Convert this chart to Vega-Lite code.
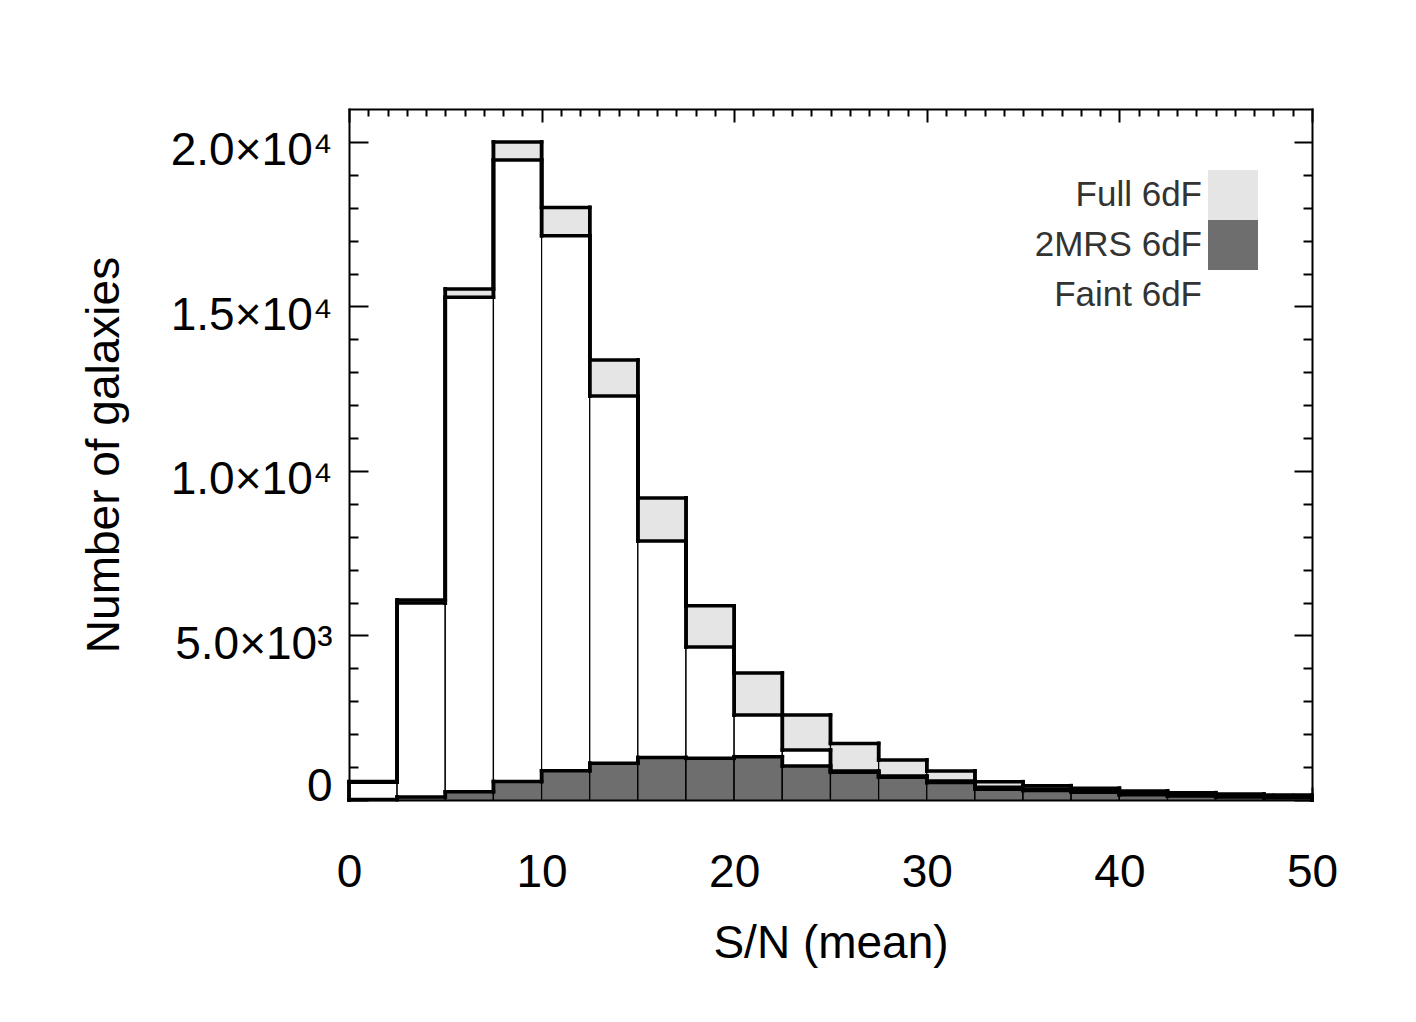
{
  "$schema": "https://vega.github.io/schema/vega-lite/v6.json",
  "width": 963,
  "height": 691,
  "autosize": {"type": "none"},
  "padding": {"left": 349, "top": 109, "right": 104, "bottom": 222},
  "background": "white",
  "config": {
    "view": {"stroke": null},
    "font": "Liberation Sans",
    "axis": {
      "domainColor": "black",
      "domainWidth": 2,
      "domainCap": "square",
      "tickColor": "black",
      "tickWidth": 2,
      "grid": false,
      "labelFont": "Liberation Sans",
      "labelFontSize": 46,
      "labelColor": "black",
      "labelOverlap": false,
      "labelFlush": false,
      "titleFont": "Liberation Sans",
      "titleFontSize": 46,
      "titleFontWeight": "normal",
      "titleColor": "black",
      "zindex": 1
    }
  },
  "data": {
    "values": [
      {"lo": 0, "hi": 2.5, "Full 6dF": 560, "Faint 6dF": 540, "2MRS 6dF": 15},
      {"lo": 2.5, "hi": 5, "Full 6dF": 6080, "Faint 6dF": 5990, "2MRS 6dF": 90},
      {"lo": 5, "hi": 7.5, "Full 6dF": 15530, "Faint 6dF": 15280, "2MRS 6dF": 250},
      {"lo": 7.5, "hi": 10, "Full 6dF": 20000, "Faint 6dF": 19450, "2MRS 6dF": 560},
      {"lo": 10, "hi": 12.5, "Full 6dF": 18010, "Faint 6dF": 17150, "2MRS 6dF": 890},
      {"lo": 12.5, "hi": 15, "Full 6dF": 13370, "Faint 6dF": 12280, "2MRS 6dF": 1115},
      {"lo": 15, "hi": 17.5, "Full 6dF": 9180, "Faint 6dF": 7870, "2MRS 6dF": 1290},
      {"lo": 17.5, "hi": 20, "Full 6dF": 5900, "Faint 6dF": 4650, "2MRS 6dF": 1267},
      {"lo": 20, "hi": 22.5, "Full 6dF": 3860, "Faint 6dF": 2580, "2MRS 6dF": 1317},
      {"lo": 22.5, "hi": 25, "Full 6dF": 2580, "Faint 6dF": 1520, "2MRS 6dF": 1033},
      {"lo": 25, "hi": 27.5, "Full 6dF": 1720, "Faint 6dF": 880, "2MRS 6dF": 840},
      {"lo": 27.5, "hi": 30, "Full 6dF": 1216, "Faint 6dF": 730, "2MRS 6dF": 690},
      {"lo": 30, "hi": 32.5, "Full 6dF": 881, "Faint 6dF": 577, "2MRS 6dF": 530},
      {"lo": 32.5, "hi": 35, "Full 6dF": 557, "Faint 6dF": 385, "2MRS 6dF": 330},
      {"lo": 35, "hi": 37.5, "Full 6dF": 436, "Faint 6dF": 334, "2MRS 6dF": 290},
      {"lo": 37.5, "hi": 40, "Full 6dF": 355, "Faint 6dF": 255, "2MRS 6dF": 235},
      {"lo": 40, "hi": 42.5, "Full 6dF": 273, "Faint 6dF": 190, "2MRS 6dF": 160},
      {"lo": 42.5, "hi": 45, "Full 6dF": 223, "Faint 6dF": 150, "2MRS 6dF": 120},
      {"lo": 45, "hi": 47.5, "Full 6dF": 182, "Faint 6dF": 120, "2MRS 6dF": 90},
      {"lo": 47.5, "hi": 50, "Full 6dF": 152, "Faint 6dF": 90, "2MRS 6dF": 65}
    ]
  },
  "transform": [
    {"fold": ["Full 6dF", "Faint 6dF", "2MRS 6dF"], "as": ["series", "n"]}
  ],
  "layer": [
    {
      "mark": {"type": "rect", "stroke": "black", "strokeWidth": 1.2},
      "encoding": {
        "x": {
          "field": "lo",
          "type": "quantitative",
          "scale": {"domain": [0, 50], "nice": false},
          "axis": {
            "orient": "bottom",
            "values": [0,1,2,3,4,5,6,7,8,9,10,11,12,13,14,15,16,17,18,19,20,21,22,23,24,25,26,27,28,29,30,31,32,33,34,35,36,37,38,39,40,41,42,43,44,45,46,47,48,49,50],
            "tickSize": {"condition": {"test": "datum.value % 10 === 0", "value": -13}, "value": -7},
            "labelExpr": "datum.value % 10 === 0 ? datum.label : ''",
            "format": "d",
            "labelPadding": 63,
            "title": "S/N (mean)",
            "titlePadding": 20
          }
        },
        "x2": {"field": "hi"},
        "y": {
          "field": "n",
          "type": "quantitative",
          "stack": null,
          "scale": {"domain": [0, 21000], "nice": false},
          "axis": {
            "orient": "left",
            "values": [0,1000,2000,3000,4000,5000,6000,7000,8000,9000,10000,11000,12000,13000,14000,15000,16000,17000,18000,19000,20000],
            "tickSize": {"condition": {"test": "datum.value % 5000 === 0", "value": -19}, "value": -9},
            "labelExpr": "datum.value === 0 ? '0' : datum.value === 5000 ? '5.0×10³' : datum.value === 10000 ? '1.0×10⁴' : datum.value === 15000 ? '1.5×10⁴' : datum.value === 20000 ? '2.0×10⁴' : ''",
            "labelPadding": 36,
            "labelOffset": {"condition": {"test": "datum.value === 0", "value": -14}, "value": 9},
            "title": "Number of galaxies",
            "titlePadding": 42
          }
        },
        "y2": {"datum": 0},
        "color": {
          "field": "series",
          "type": "nominal",
          "scale": {
            "domain": ["Full 6dF", "2MRS 6dF", "Faint 6dF"],
            "range": ["#e5e5e5", "#6e6e6e", "#ffffff"]
          },
          "legend": {
            "orient": "none",
            "legendX": 859,
            "legendY": 61,
            "title": null,
            "padding": 0,
            "rowPadding": 0,
            "symbolType": "square",
            "symbolSize": 2500,
            "symbolStrokeWidth": 0,
            "symbolOpacity": 1,
            "labelAlign": "right",
            "labelOffset": -56,
            "labelFont": "Liberation Sans",
            "labelFontSize": 35,
            "labelColor": "#333333",
            "labelLimit": 300
          }
        }
      }
    },
    {
      "mark": {"type": "rule", "color": "black", "strokeWidth": 3.5, "strokeCap": "square"},
      "encoding": {
        "x": {
          "field": "lo",
          "type": "quantitative",
          "axis": {
            "orient": "top",
            "values": [0,1,2,3,4,5,6,7,8,9,10,11,12,13,14,15,16,17,18,19,20,21,22,23,24,25,26,27,28,29,30,31,32,33,34,35,36,37,38,39,40,41,42,43,44,45,46,47,48,49,50],
            "tickSize": {"condition": {"test": "datum.value % 10 === 0", "value": -13}, "value": -7},
            "labels": false,
            "title": null
          }
        },
        "x2": {"field": "hi"},
        "y": {
          "field": "n",
          "type": "quantitative",
          "axis": {
            "orient": "right",
            "values": [0,1000,2000,3000,4000,5000,6000,7000,8000,9000,10000,11000,12000,13000,14000,15000,16000,17000,18000,19000,20000],
            "tickSize": {"condition": {"test": "datum.value % 5000 === 0", "value": -18}, "value": -9},
            "labels": false,
            "title": null
          }
        }
      }
    },
    {
      "transform": [
        {"window": [{"op": "lag", "field": "n", "as": "prev"}], "groupby": ["series"], "sort": [{"field": "lo", "order": "ascending"}]},
        {"calculate": "isValid(datum.prev) ? datum.prev : 0", "as": "prev0"}
      ],
      "mark": {"type": "rule", "color": "black", "strokeWidth": 3.5, "strokeCap": "square"},
      "encoding": {
        "x": {"field": "lo", "type": "quantitative", "axis": null},
        "y": {"field": "n", "type": "quantitative", "axis": null},
        "y2": {"field": "prev0"}
      }
    },
    {
      "transform": [
        {"window": [{"op": "lead", "field": "n", "as": "next"}], "groupby": ["series"], "sort": [{"field": "lo", "order": "ascending"}]},
        {"calculate": "isValid(datum.next) ? datum.next : 0", "as": "next0"}
      ],
      "mark": {"type": "rule", "color": "black", "strokeWidth": 3.5, "strokeCap": "square"},
      "encoding": {
        "x": {"field": "hi", "type": "quantitative", "axis": null},
        "y": {"field": "n", "type": "quantitative", "axis": null},
        "y2": {"field": "next0"}
      }
    }
  ]
}
